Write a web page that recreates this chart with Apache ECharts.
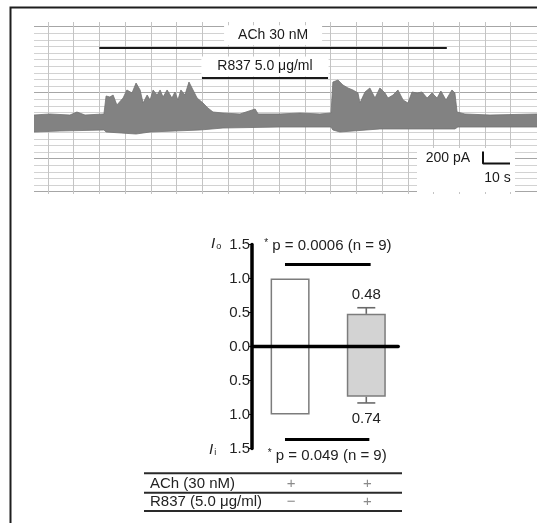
<!DOCTYPE html>
<html><head><meta charset="utf-8">
<script src="https://cdn.jsdelivr.net/npm/echarts@6/dist/echarts.min.js"></script>
<style>html,body{margin:0;padding:0;background:#fff}#c{width:537px;height:523px}</style>
</head><body><div id="c"></div>
<script>
// ---------- DATA ----------
// Current trace (time in s, current in pA, inward current drawn upward): upper and lower envelope
const traceTopTime = [0,5.9,13.3,15.9,18.9,25.9,26.7,28.1,29.3,30.7,33.0,34.4,36.3,37.8,39.3,40.4,41.9,43.0,44.1,45.6,46.7,47.8,49.3,51.1,52.2,53.3,54.4,55.9,57.4,58.9,60.4,62.6,64.4,66.3,70.0,76.3,81.9,83.0,91.1,98.5,105.9,110.0,110.7,112.6,114.4,116.3,118.1,120.0,120.7,122.6,124.4,126.3,128.1,130.0,131.1,133.0,134.8,136.7,138.5,140.0,141.9,143.7,145.6,147.4,149.3,150.7,152.6,154.8,155.9,156.7,159.6,168.9,186.3];
const traceTop = [125,142,125,175,125,142,442,425,458,292,408,542,492,658,542,325,458,375,542,458,542,425,542,408,508,375,542,458,675,542,408,325,242,175,158,142,225,142,142,158,142,158,675,708,625,575,542,492,325,508,575,408,575,492,408,458,542,375,325,508,492,508,408,492,408,525,375,542,492,175,142,125,142];
const traceBottomTime = [0,9.6,25.9,26.7,37.8,43.0,61.5,70.0,91.1,110.0,110.7,113.3,128.1,155.9,157.0,186.3];
const traceBottom = [-158,-142,-125,-158,-192,-158,-125,-92,-75,-75,-125,-158,-108,-108,-75,-75];
// Drug application periods (s)
const achPeriod = [24.2, 152.9];
const r837Period = [62.2, 108.9];
const achText = 'ACh 30 nM';
const r837Text = 'R837 5.0 μg/ml';
// Scale bar
const scaleBarTime = 10;      // s
const scaleBarCurrent = 200;  // pA
const scaleBarCorner = [166.3, -683];

// Bar chart: normalised outward (Io) and inward (Ii) currents
const groups = [0.5, 1.5];
const ioValues = [1.0, 0.48];
const iiValues = [1.0, 0.74];
const ioErr = [0, 0.09];
const iiErr = [0, 0.09];
const yTicks = [-1.5, 1.5, 0.5];
const pTop = '* p = 0.0006 (n = 9)';
const pBottom = '* p = 0.049 (n = 9)';
const tableRows = ['ACh (30 nM)', 'R837 (5.0 μg/ml)'];
const tableMarks = [['+', '+'], ['−', '+']];

// ---------- CHART ----------
const FONT = 'Arial, "Liberation Sans", sans-serif';
const chart = echarts.init(document.getElementById('c'));

const barFill = ['#ffffff', '#d3d3d3'];
const hidden = {axisLine:{show:false}, axisTick:{show:false}, axisLabel:{show:false}};
const traceColor = '#828282';

const option = {
  animation: false,
  backgroundColor: '#fff',
  textStyle: {fontFamily: FONT},
  grid: [
    {left: 34, right: 0, top: 26.7, height: 165},
    {left: 48, width: 462.6, top: 22, height: 172},
    {left: 34, right: 0, top: 20.5, height: 174},
    {left: 252, width: 146.3, top: 244.5, height: 204}
  ],
  xAxis: [
    {gridIndex: 0, type: 'value', min: 0, max: 1, show: false},
    Object.assign({gridIndex: 1, type: 'value', min: 0, max: 18, interval: 1,
      splitLine: {show: true, lineStyle: {color: '#c4c4c4', width: 1}}}, hidden),
    {gridIndex: 2, type: 'value', min: 0, max: 186.3, show: false},
    {gridIndex: 3, type: 'value', min: 0, max: 1.92, z: 10,
      axisLine: {show: true, onZero: true, lineStyle: {color: '#000', width: 3.3}},
      axisTick: {show: false}, axisLabel: {show: false}, splitLine: {show: false}}
  ],
  yAxis: [
    Object.assign({gridIndex: 0, type: 'value', min: 0, max: 25, interval: 1, inverse: true,
      splitLine: {show: true, lineStyle: {color: '#d2d2d2', width: 1}}}, hidden),
    Object.assign({gridIndex: 0, type: 'value', min: 0, max: 25, interval: 10, inverse: true, position: 'left',
      splitLine: {show: true, lineStyle: {color: '#a6a6a6', width: 1}}}, hidden),
    {gridIndex: 1, type: 'value', min: 0, max: 1, show: false},
    {gridIndex: 2, type: 'value', min: -1200, max: 1700, show: false},
    {gridIndex: 3, type: 'value', min: yTicks[0], max: yTicks[1], interval: yTicks[2], z: 10,
      axisLine: {show: true, lineStyle: {color: '#000', width: 3.5}},
      axisTick: {show: true, length: 3, lineStyle: {color: '#000', width: 1}},
      axisLabel: {formatter: v => Math.abs(v).toFixed(1), fontSize: 15, color: '#222', margin: 2, fontFamily: FONT},
      splitLine: {show: false}}
  ],
  series: [
    {
      type: 'line', name: 'trace upper', xAxisIndex: 2, yAxisIndex: 3, z: 3,
      data: traceTopTime.map((t, i) => [t, traceTop[i]]),
      symbol: 'none', lineStyle: {color: '#727272', width: 0.8},
      areaStyle: {color: traceColor, opacity: 1, origin: -60},
      markLine: {
        silent: true, symbol: 'none',
        data: [
          [{coord: [achPeriod[0], 1253], lineStyle: {color: '#1a1a1a', width: 2.2, type: 'solid'},
            label: {show: true, formatter: achText, position: 'insideMiddleTop', distance: 2,
              backgroundColor: '#fff', padding: [3, 14], fontSize: 14, color: '#1a1a1a', fontFamily: FONT}},
           {coord: [achPeriod[1], 1253]}],
          [{coord: [r837Period[0], 742], lineStyle: {color: '#1a1a1a', width: 2.2, type: 'solid'},
            label: {show: true, formatter: r837Text, position: 'insideMiddleTop', distance: 1.5,
              backgroundColor: '#fff', padding: [3, 16], fontSize: 14, color: '#1a1a1a', fontFamily: FONT}},
           {coord: [r837Period[1], 742]}]
        ]
      }
    },
    {
      type: 'line', name: 'trace lower', xAxisIndex: 2, yAxisIndex: 3, z: 3,
      data: traceBottomTime.map((t, i) => [t, traceBottom[i]]),
      symbol: 'none', lineStyle: {color: '#727272', width: 0.8},
      areaStyle: {color: traceColor, opacity: 1, origin: 60}
    },
    {
      type: 'line', name: 'scale bar', xAxisIndex: 2, yAxisIndex: 3, z: 6,
      data: [[scaleBarCorner[0], scaleBarCorner[1] + scaleBarCurrent], scaleBarCorner,
             [scaleBarCorner[0] + scaleBarTime, scaleBarCorner[1]]],
      symbol: 'none', lineStyle: {color: '#111', width: 2}
    },
    {
      type: 'bar', name: 'Io', xAxisIndex: 3, yAxisIndex: 4, barWidth: 39, z: 3,
      data: groups.map((g, i) => ({value: [g, ioValues[i]], itemStyle: {color: barFill[i]},
        label: {show: i === 1}})),
      itemStyle: {borderColor: '#7c7c7c', borderWidth: 1.5},
      label: {position: 'top', distance: 12, fontSize: 15, color: '#222', fontFamily: FONT,
        formatter: p => Math.abs(p.value[1]).toFixed(2)},
      markLine: {
        silent: true, symbol: 'none',
        lineStyle: {color: '#000', width: 3, type: 'solid'},
        label: {show: true, fontSize: 15, color: '#222', fontFamily: FONT,
          rich: {s: {fontSize: 10, verticalAlign: 'top', padding: [0, 0, 6, 0], color: '#222'}}},
        data: [
          [{coord: [0.433, 1.213], label: {position: 'insideMiddleTop', distance: 10,
             formatter: '{s|*}' + pTop.slice(1)}}, {coord: [1.557, 1.213]}],
          [{coord: [0.433, -1.365], label: {position: 'insideMiddleBottom', distance: 9,
             formatter: '{s|*}' + pBottom.slice(1)}}, {coord: [1.54, -1.365]}]
        ]
      }
    },
    {
      type: 'bar', name: 'Ii', xAxisIndex: 3, yAxisIndex: 4, barWidth: 39, barGap: '-100%', z: 3,
      data: groups.map((g, i) => ({value: [g, -iiValues[i]], itemStyle: {color: barFill[i]},
        label: {show: i === 1}})),
      itemStyle: {borderColor: '#7c7c7c', borderWidth: 1.5},
      label: {position: 'bottom', distance: 15, fontSize: 15, color: '#222', fontFamily: FONT,
        formatter: p => Math.abs(p.value[1]).toFixed(2)}
    },
    {
      type: 'custom', name: 'error', xAxisIndex: 3, yAxisIndex: 4, z: 4,
      data: groups.flatMap((g, i) => [[g, ioValues[i], ioErr[i]], [g, -iiValues[i], -iiErr[i]]])
        .filter(d => d[2] !== 0),
      renderItem: (params, api) => {
        const p0 = api.coord([api.value(0), api.value(1)]);
        const p1 = api.coord([api.value(0), api.value(1) + api.value(2)]);
        const st = {stroke: '#6a6a6a', lineWidth: 1.6};
        return {type: 'group', children: [
          {type: 'line', shape: {x1: p0[0], y1: p0[1], x2: p1[0], y2: p1[1]}, style: st},
          {type: 'line', shape: {x1: p1[0] - 9, y1: p1[1], x2: p1[0] + 9, y2: p1[1]}, style: st}
        ]};
      }
    }
  ]
};
chart.setOption(option);

// ---------- annotations placed from axis coordinates ----------
const sc = chart.convertToPixel({gridIndex: 2}, scaleBarCorner);
const scTop = chart.convertToPixel({gridIndex: 2}, [scaleBarCorner[0], scaleBarCorner[1] + scaleBarCurrent]);
const scEnd = chart.convertToPixel({gridIndex: 2}, [scaleBarCorner[0] + scaleBarTime, scaleBarCorner[1]]);
const colPx = groups.map(g => chart.convertToPixel({xAxisIndex: 3}, g));

const graphics = [
  {type: 'polyline', shape: {points: [[10.5, 523], [10.5, 7.5], [537, 7.5]]},
   style: {stroke: '#1e1e1e', lineWidth: 2, fill: null}, z: 10},
  {type: 'rect', shape: {x: 417, y: 148, width: 98, height: 44}, style: {fill: '#fff'}, z: 1},
  {type: 'text', x: sc[0] - 13, y: (sc[1] + scTop[1]) / 2 + 1, z: 7,
   style: {text: scaleBarCurrent + ' pA', fontSize: 14, fontFamily: FONT, fill: '#1a1a1a', align: 'right', verticalAlign: 'middle'}},
  {type: 'text', x: (sc[0] + scEnd[0]) / 2 + 1, y: sc[1] + 14.5, z: 7,
   style: {text: scaleBarTime + ' s', fontSize: 14, fontFamily: FONT, fill: '#1a1a1a', align: 'center', verticalAlign: 'middle'}},
  {type: 'text', x: 211, y: 236, z: 7,
   style: {text: '{i|I}{s|o}', rich: {i: {fontSize: 15, fontStyle: 'italic', fontFamily: FONT, fill: '#222'},
     s: {fontSize: 9, fontFamily: FONT, fill: '#222', padding: [6, 0, 0, 1]}}}},
  {type: 'text', x: 209, y: 442, z: 7,
   style: {text: '{i|I}{s|i}', rich: {i: {fontSize: 15, fontStyle: 'italic', fontFamily: FONT, fill: '#222'},
     s: {fontSize: 9, fontFamily: FONT, fill: '#222', padding: [6, 0, 0, 1]}}}}
];
[473.3, 492.7, 511].forEach(y => graphics.push(
  {type: 'line', shape: {x1: 144, y1: y, x2: 402, y2: y}, style: {stroke: '#2a2a2a', lineWidth: 2}, z: 7}));
const rowY = [484, 502];
tableRows.forEach((r, i) => {
  graphics.push({type: 'text', x: 150, y: rowY[i], z: 7,
    style: {text: r, fontSize: 15, fontFamily: FONT, fill: '#222', verticalAlign: 'middle'}});
  tableMarks[i].forEach((m, j) => graphics.push({type: 'text', x: colPx[j] + 1, y: rowY[i], z: 7,
    style: {text: m, fontSize: 15, fontFamily: FONT, fill: '#8a8a8a', align: 'center', verticalAlign: 'middle'}}));
});
chart.setOption({graphic: graphics});
</script>
</body></html>
